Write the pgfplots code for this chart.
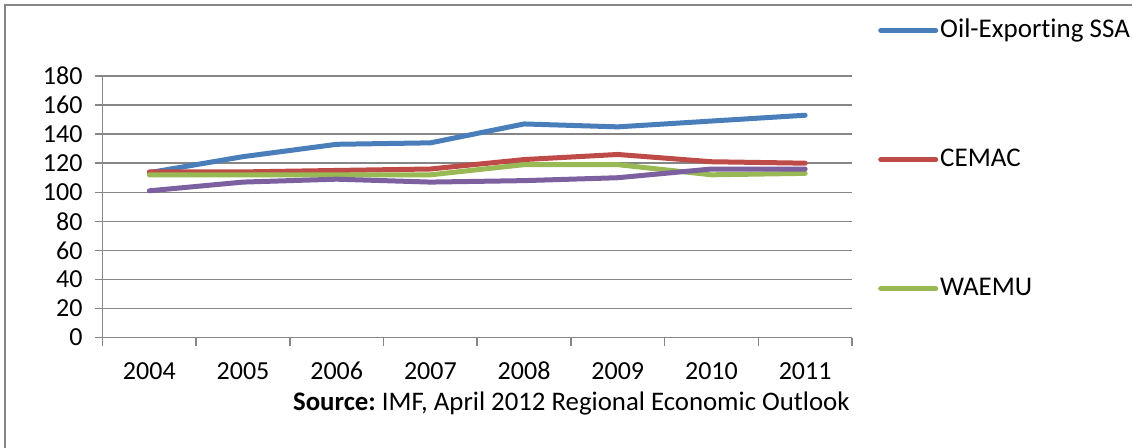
\documentclass[border=0pt]{standalone}
\usepackage{fontspec}
\setmainfont{Carlito}[Ligatures=NoCommon]
\usepackage{pgfplots}
\pgfplotsset{compat=1.18}
\definecolor{cblue}{RGB}{74,126,187}
\definecolor{cred}{RGB}{190,75,72}
\definecolor{cgreen}{RGB}{152,185,84}
\definecolor{cpurple}{RGB}{125,96,160}
\definecolor{cgrid}{RGB}{134,134,134}
\begin{document}
\frenchspacing
\begin{tikzpicture}
\fontsize{13}{15.6}\selectfont
\path[use as bounding box] (0,0) rectangle (566pt,224pt);
% outer frame (only top and left visible)
\draw[cgrid, line width=1pt] (2.5pt,0) -- (2.5pt,221.5pt) -- (566pt,221.5pt);
\begin{axis}[
    at={(51.25pt,55.2pt)}, anchor=south west,
    scale only axis,
    width=374.75pt, height=130.8pt,
    xmin=-0.5, xmax=7.5,
    ymin=0, ymax=180,
    xtick={0,...,7},
    xticklabels={2004,2005,2006,2007,2008,2009,2010,2011},
    minor xtick={-0.5,0.5,...,7.5},
    ytick={0,20,...,180},
    axis x line*=bottom, axis y line*=left,
    axis line style={cgrid, line width=0.75pt},
    tick style={cgrid, line width=0.75pt},
    tick align=outside,
    major tick length=4pt,
    minor tick length=4pt,
    x tick style={draw=none},
    minor x tick style={draw=cgrid},
    ymajorgrids,
    grid style={cgrid, line width=0.75pt},
    tick label style={font=\fontsize{13}{15.6}\selectfont},
    /pgf/number format/assume math mode=true,
    yticklabel style={anchor=east, xshift=-1.5pt},
    xticklabel style={anchor=base, yshift=-17pt},
    legend style={draw=none, fill=none, at={(1.0345,1.227)}, anchor=north west,
        row sep=51.75pt, inner sep=0pt,
        font=\fontsize{13.5}{16}\selectfont,
        nodes={inner sep=1pt, anchor=west}},
    legend cell align=left,
    legend image code/.code={\draw[#1] (0pt,0pt) -- (27.5pt,0pt);},
    every axis plot/.append style={line width=2.5pt, line cap=round, line join=round},
]
\addplot[cblue] coordinates {(0,113.5) (1,124.5) (2,133) (3,134) (4,147) (5,145) (6,149) (7,153)};
\addlegendentry{Oil-Exporting SSA}
\addplot[cred] coordinates {(0,114) (1,114) (2,115) (3,116) (4,122.5) (5,126) (6,121) (7,120)};
\addlegendentry{CEMAC}
\addplot[cgreen] coordinates {(0,112) (1,112) (2,112) (3,112) (4,119) (5,119) (6,112) (7,113)};
\addlegendentry{WAEMU}
\addplot[cpurple, forget plot] coordinates {(0,101) (1,107) (2,109) (3,107) (4,108) (5,110) (6,116) (7,116)};
\end{axis}
\node[anchor=base east, inner sep=0pt, font=\fontsize{13.4}{16}\selectfont] at (425pt,18.5pt) {\textbf{Source:} IMF, April 2012 Regional Economic Outlook};
\end{tikzpicture}
\end{document}
